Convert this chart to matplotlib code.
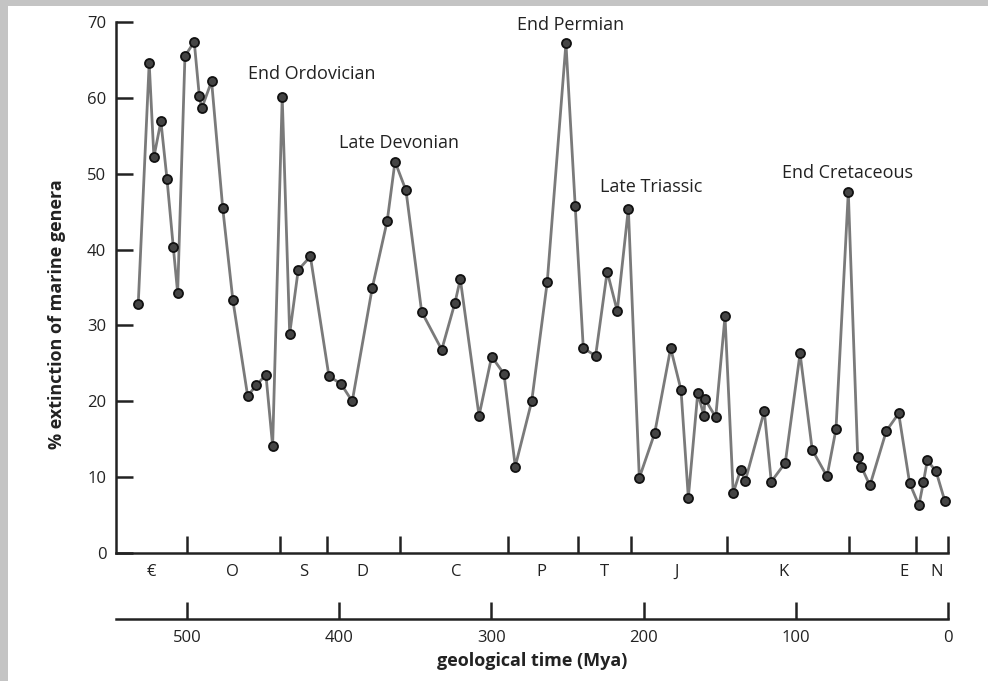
import matplotlib
matplotlib.use("Agg")
import matplotlib.pyplot as plt
from matplotlib.patches import Rectangle

plt.rcParams['font.family'] = ['Open Sans', 'DejaVu Sans']

# time (Mya) and % extinction of marine genera
mya = [532.0, 524.8, 521.7, 517.1, 513.1, 509.0, 506.1, 501.3, 495.2, 491.9,
       490.3, 483.8, 476.5, 469.8, 460.1, 454.5, 448.1, 443.7, 437.4, 432.5,
       426.9, 418.9, 406.7, 398.8, 391.4, 378.2, 368.4, 363.3, 356.1, 345.8,
       332.6, 323.9, 320.4, 308.1, 299.8, 291.7, 284.3, 273.5, 263.3, 251.0,
       244.9, 239.6, 231.5, 223.9, 217.3, 210.0, 202.8, 192.7, 182.2, 175.4,
       170.6, 164.4, 160.4, 159.7, 152.6, 146.5, 141.1, 136.2, 133.2, 120.7,
       116.1, 106.9, 97.2, 89.2, 79.5, 73.6, 65.5, 59.3, 57.0, 51.3,
       40.5, 32.4, 25.2, 19.1, 16.2, 13.6, 7.9, 2.0]
extinction = [32.8, 64.6, 52.2, 56.9, 49.3, 40.4, 34.3, 65.5, 67.4, 60.3,
              58.6, 62.2, 45.5, 33.3, 20.7, 22.1, 23.5, 14.1, 60.1, 28.9,
              37.3, 39.1, 23.3, 22.3, 20.0, 35.0, 43.8, 51.6, 47.8, 31.8,
              26.8, 33.0, 36.1, 18.1, 25.9, 23.6, 11.4, 20.0, 35.7, 67.2,
              45.7, 27.0, 26.0, 37.1, 31.9, 45.4, 9.9, 15.8, 27.0, 21.5,
              7.3, 21.1, 18.1, 20.3, 17.9, 31.2, 7.9, 11.0, 9.5, 18.7,
              9.4, 11.9, 26.3, 13.6, 10.1, 16.3, 47.6, 12.6, 11.4, 8.9,
              16.1, 18.4, 9.2, 6.3, 9.3, 12.2, 10.8, 6.8]

period_bounds = [500, 439, 408, 360, 289, 243, 208, 145, 65, 21, 0]
period_names = ['€', 'O', 'S', 'D', 'C', 'P', 'T', 'J', 'K', 'E', 'N']
period_mid = [523.6, 469.8, 423.1, 385, 323.3, 267.4, 226, 178, 108.4, 28.9, 7.2]

events = ['End Ordovician', 'Late Devonian', 'End Permian', 'Late Triassic', 'End Cretaceous']
event_x = [417.9, 360.7, 247.7, 195.1, 65.7]
event_y = [63.2, 54.0, 69.6, 48.2, 50.1]

time_ticks = [500, 400, 300, 200, 100, 0]

ink = '#222222'

fig = plt.figure(figsize=(9.88, 6.81), dpi=100)
fig.patch.set_facecolor('#c4c4c4')
fig.patches.append(Rectangle((8 / 988, 0), 1, 1 - 6 / 681, transform=fig.transFigure,
                             facecolor='white', edgecolor='none', zorder=-10))

left, width = 116 / 988, 832 / 988
ax = fig.add_axes([left, 1 - 553 / 681, width, 531 / 681])
ax.patch.set_alpha(0)
ax.plot(mya, extinction, color='#7a7a7a', lw=2, zorder=2, clip_on=False)
ax.plot(mya, extinction, 'o', ms=6.5, mfc='#444444', mec='#111111', mew=1.3,
        zorder=3, clip_on=False)

ax.set_xlim(546.6, 0)
ax.set_ylim(0, 70)
for s in ['top', 'right']:
    ax.spines[s].set_visible(False)
for s in ['left', 'bottom']:
    ax.spines[s].set_color(ink)
    ax.spines[s].set_linewidth(1.8)

ax.set_yticks(range(0, 71, 10))
ax.tick_params(axis='y', direction='in', length=12, width=1.8, color=ink,
               labelsize=12, labelcolor=ink, pad=7)
ax.set_xticks(period_bounds)
ax.set_xticklabels([])
ax.set_xticks(period_mid, minor=True)
ax.set_xticklabels(period_names, minor=True)
ax.tick_params(axis='x', which='major', direction='in', length=12, width=1.8, color=ink)
ax.tick_params(axis='x', which='minor', length=0, labelsize=12, labelcolor=ink, pad=8)

ax.set_ylabel('% extinction of marine genera', fontsize=13, fontweight='bold', color=ink)
ax.yaxis.set_label_coords(-0.06, 0.45)

for name, x, y in zip(events, event_x, event_y):
    ax.text(x, y, name, ha='center', va='center', fontsize=13, color=ink)

# separate time scale below the period strip
ax2 = fig.add_axes([left, 1 - 619 / 681, width, 0.001])
ax2.patch.set_alpha(0)
for s in ['top', 'right', 'left']:
    ax2.spines[s].set_visible(False)
ax2.spines['bottom'].set_color(ink)
ax2.spines['bottom'].set_linewidth(1.8)
ax2.set_xlim(546.6, 0)
ax2.set_yticks([])
ax2.set_xticks(time_ticks)
ax2.tick_params(axis='x', direction='in', length=12, width=1.8, color=ink,
                labelsize=12, labelcolor=ink, pad=8)
ax2.set_xlabel('geological time (Mya)', fontsize=13, fontweight='bold', color=ink, labelpad=4)

fig.savefig('out.png', dpi=100)
